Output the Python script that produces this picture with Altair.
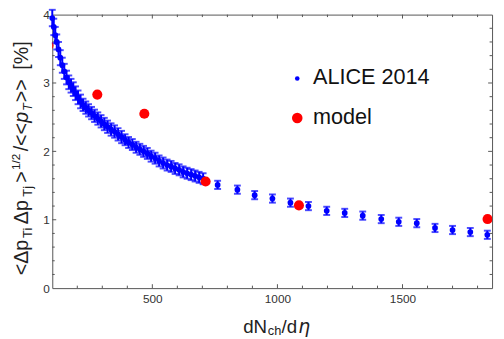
import altair as alt
import pandas as pd

# ---------------- data ----------------
alice_x = [100, 106, 112, 118, 125, 132, 140, 148, 157, 166, 175, 184, 193, 203, 213,
           223, 234, 245, 257, 269, 282, 295, 308, 321, 335, 349, 363, 377, 391, 405,
           420, 435, 450, 465, 480, 495, 511, 527, 543, 559, 575, 591, 607, 623, 639,
           655, 671, 687, 703,
           761, 840, 909, 980, 1052, 1124, 1197, 1269, 1341, 1415, 1485, 1557, 1630,
           1700, 1771, 1839]
alice_y = [3.95, 3.82, 3.70, 3.60, 3.49, 3.37, 3.26, 3.17, 3.08, 3.01, 2.96, 2.91, 2.85,
           2.79, 2.73, 2.68, 2.64, 2.60, 2.56, 2.52, 2.48, 2.44, 2.40, 2.36, 2.32, 2.29,
           2.25, 2.21, 2.17, 2.13, 2.10, 2.06, 2.03, 2.00, 1.97, 1.93, 1.90, 1.86, 1.83,
           1.80, 1.78, 1.75, 1.73, 1.70, 1.68, 1.66, 1.64, 1.62, 1.60,
           1.51, 1.44, 1.36, 1.31, 1.25, 1.20, 1.13, 1.10, 1.06, 1.01, 0.97, 0.95, 0.88,
           0.85, 0.82, 0.78]
alice_err = [0.12, 0.12, 0.12, 0.11, 0.11, 0.11, 0.11, 0.11, 0.10, 0.10, 0.10, 0.10, 0.10,
             0.10, 0.10, 0.09, 0.09, 0.09, 0.09, 0.09, 0.09, 0.09, 0.09, 0.09, 0.09, 0.09,
             0.09, 0.09, 0.08, 0.08, 0.08, 0.08, 0.08, 0.08, 0.08, 0.08, 0.08, 0.08, 0.08,
             0.08, 0.08, 0.08, 0.08, 0.08, 0.08, 0.08, 0.08, 0.08, 0.08,
             0.06, 0.06, 0.06, 0.06, 0.06, 0.06, 0.06, 0.06, 0.06, 0.06, 0.06, 0.06, 0.06,
             0.06, 0.06, 0.06]

model_x = [85, 280, 468, 713, 1086, 1840]
model_y = [3.55, 2.83, 2.55, 1.56, 1.21, 1.01]

x_major = [500, 1000, 1500]
x_minor = [200, 300, 400, 600, 700, 800, 900, 1100, 1200, 1300, 1400, 1600, 1700, 1800]
y_major = [1, 2, 3]
y_minor = [0.2, 0.4, 0.6, 0.8, 1.2, 1.4, 1.6, 1.8, 2.2, 2.4, 2.6, 2.8,
           3.2, 3.4, 3.6, 3.8]
x_labels = [500, 1000, 1500]
y_labels = [0, 1, 2, 3, 4]

legend_names = ["ALICE 2014", "model"]

# ---------------- layout ----------------
W, H = 447, 278
BLUE = "#0000ff"
RED = "#ff0000"
AXC = "#555555"
TXT = "#222222"
FONT = "Liberation Sans"

alice = pd.DataFrame({"x": alice_x, "y": alice_y, "err": alice_err})
alice["lo"] = alice["y"] - alice["err"]
alice["hi"] = alice["y"] + alice["err"]
model = pd.DataFrame({"x": model_x, "y": model_y})

xs = alt.Scale(domain=[100, 1858], nice=False, zero=False)
ys = alt.Scale(domain=[0, 4], nice=False, zero=True)
x_axis = alt.Axis(title=None, values=x_labels, ticks=False, domain=False, grid=False, format="d",
                  labelFontSize=12, labelFont=FONT, labelColor="#333333", labelPadding=6)
y_axis = alt.Axis(title=None, values=y_labels, ticks=False, domain=False, grid=False, format="d",
                  labelFontSize=12, labelFont=FONT, labelColor="#333333", labelPadding=3,
                  labelFlush=False)


def X(field="x"):
    return alt.X(f"{field}:Q", scale=xs, axis=x_axis)


def Y(field="y"):
    return alt.Y(f"{field}:Q", scale=ys, axis=y_axis)


base = alt.Chart(alice)
bars = base.mark_rule(color=BLUE, strokeWidth=2).encode(x=X(), y=Y("lo"), y2="hi:Q")
cap_lo = base.mark_tick(color=BLUE, orient="horizontal", size=7, thickness=2).encode(x=X(), y=Y("lo"))
cap_hi = base.mark_tick(color=BLUE, orient="horizontal", size=7, thickness=2).encode(x=X(), y=Y("hi"))
pts = base.mark_circle(color=BLUE, size=34, opacity=1).encode(x=X(), y=Y())

reds = alt.Chart(model).mark_circle(color=RED, size=105, opacity=1, clip=True).encode(x=X(), y=Y())


# inward tick marks on all four sides
def xticks(vals, ln, top):
    d = pd.DataFrame({"x": vals})
    if top:
        return alt.Chart(d).mark_rule(color=AXC, strokeWidth=1).encode(
            x=X(), y=alt.value(0), y2=alt.value(ln))
    return alt.Chart(d).mark_rule(color=AXC, strokeWidth=1).encode(
        x=X(), y=alt.value(H), y2=alt.value(H - ln))


def yticks(vals, ln, right):
    d = pd.DataFrame({"y": vals})
    if right:
        return alt.Chart(d).mark_rule(color=AXC, strokeWidth=1).encode(
            y=Y(), x=alt.value(W), x2=alt.value(W - ln))
    return alt.Chart(d).mark_rule(color=AXC, strokeWidth=1).encode(
        y=Y(), x=alt.value(0), x2=alt.value(ln))


tick_layers = [
    xticks(x_major, 4, False), xticks(x_minor, 2.5, False),
    xticks(x_major, 4, True), xticks(x_minor, 2.5, True),
    yticks(y_major, 4, False), yticks(y_minor, 2.5, False),
    yticks(y_major, 4, True), yticks(y_minor, 2.5, True),
]

# legend
one = pd.DataFrame({"k": [0]})
leg_blue = alt.Chart(one).mark_circle(color=BLUE, size=22, opacity=1).encode(
    x=alt.value(249), y=alt.value(65))
leg_red = alt.Chart(one).mark_circle(color=RED, size=115, opacity=1).encode(
    x=alt.value(249), y=alt.value(105))
leg_t1 = alt.Chart(one).mark_text(text=legend_names[0], font=FONT, fontSize=22, color="#111111",
                                  align="left", baseline="alphabetic").encode(
    x=alt.value(265), y=alt.value(71))
leg_t2 = alt.Chart(one).mark_text(text=legend_names[1], font=FONT, fontSize=22, color="#111111",
                                  align="left", baseline="alphabetic").encode(
    x=alt.value(265), y=alt.value(111))


def txt(s, x, y, size, angle=0, style="normal", font=FONT):
    kw = dict(text=s, font=font, fontSize=size, color=TXT, align="left",
              baseline="alphabetic", fontStyle=style)
    if angle:
        kw["angle"] = angle
    return alt.Chart(one).mark_text(**kw).encode(x=alt.value(x), y=alt.value(y))


# y title: <Δp_Ti Δp_Tj>^{1/2}/<<p_T>>  [%]   (rotated, reading upward)
MX, SX, PX = -24.5, -20.5, -32.5
ytitle = [
    txt("<Δp", MX, 265, 20, 270),
    txt("Ti", SX, 227, 13, 270),
    txt("Δp", MX, 213, 20, 270),
    txt("Tj", SX, 185, 13, 270),
    txt(">", MX, 171, 20, 270),
    txt("1/2", PX, 158, 12, 270),
    txt("/<<", MX, 139, 20, 270),
    txt("p", MX, 110, 20, 270, "italic"),
    txt("T", SX, 98, 13, 270, "italic"),
    txt(">>", MX, 89, 20, 270),
    txt("[%]", MX, 56, 20, 270),
]

# x title: dN_ch/dη
xtitle = [
    txt("dN", 194, 324, 19),
    txt("ch", 219, 326, 13),
    txt("/d", 233, 324, 19),
    txt("η", 250, 324, 19, 0, "italic", "DejaVu Sans"),
]

chart = alt.layer(
    *tick_layers, bars, cap_lo, cap_hi, pts, reds,
    leg_blue, leg_red, leg_t1, leg_t2, *ytitle, *xtitle
).properties(
    width=W, height=H,
    autosize=alt.AutoSizeParams(type="none"),
    padding={"left": 45, "top": 4, "right": 4, "bottom": 50},
    background="white",
).configure_view(stroke=AXC, strokeWidth=1)

chart.save("out.html", embed_options={"renderer": "svg", "actions": False})
